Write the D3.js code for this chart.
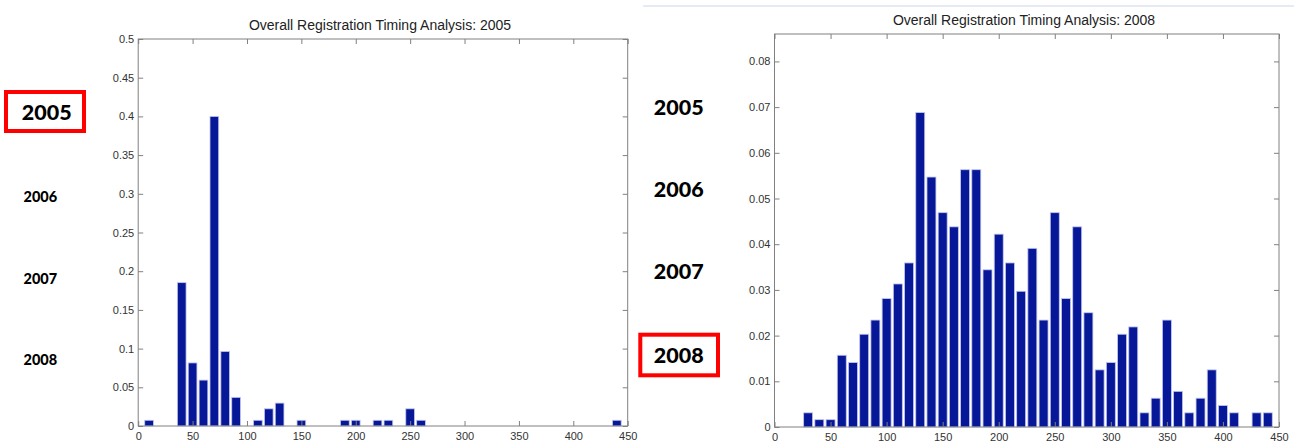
<!DOCTYPE html>
<html>
<head>
<meta charset="utf-8">
<script src="https://cdn.jsdelivr.net/npm/d3@7"></script>
<style>
  html, body { margin: 0; padding: 0; background: #ffffff; }
  svg { display: block; }
</style>
</head>
<body>
<svg id="chart" width="1294" height="444"></svg>
<script>
// Registration timing histograms (share of registrations per 10-unit bin)
const binCenters2005 = [10, 40, 50, 60, 70, 80, 90, 110, 120, 130, 150, 190, 200, 220, 230, 250, 260, 440];
const share2005 = [0.0074, 0.1852, 0.0815, 0.0593, 0.4, 0.0963, 0.037, 0.0074, 0.0222, 0.0296,
                   0.0074, 0.0074, 0.0074, 0.0074, 0.0074, 0.0222, 0.0074, 0.0074];

const binCenters2008 = [30, 40, 50, 60, 70, 80, 90, 100, 110, 120, 130, 140, 150, 160, 170, 180, 190,
                        200, 210, 220, 230, 240, 250, 260, 270, 280, 290, 300, 310, 320, 330, 340,
                        350, 360, 370, 380, 390, 400, 410, 430, 440];
const share2008 = [0.0031, 0.0016, 0.0016, 0.0157, 0.0141, 0.0203, 0.0234, 0.0281, 0.0313, 0.0359,
                   0.0688, 0.0547, 0.0469, 0.0438, 0.0563, 0.0563, 0.0344, 0.0422, 0.0359, 0.0297,
                   0.0391, 0.0234, 0.0469, 0.0281, 0.0438, 0.025, 0.0125, 0.0141, 0.0203, 0.0219,
                   0.0031, 0.0063, 0.0234, 0.0078, 0.0031, 0.0063, 0.0125, 0.0047, 0.0031, 0.0031, 0.0031];

const xTicks = [0, 50, 100, 150, 200, 250, 300, 350, 400, 450];
const yTicks2005 = [0, 0.05, 0.1, 0.15, 0.2, 0.25, 0.3, 0.35, 0.4, 0.45, 0.5];
const yTicks2008 = [0, 0.01, 0.02, 0.03, 0.04, 0.05, 0.06, 0.07, 0.08];

const yearLabels = ["2005", "2006", "2007", "2008"];
const titlePrefix = "Overall Registration Timing Analysis: ";

const svg = d3.select("#chart");
const BAR_FILL = "#061797";
const BAR_EDGE = "#c3c6ee";
const AXIS_COLOR = "#808080";
const TICK_FONT = "'Liberation Sans', Arial, sans-serif";
const fmt = v => String(+v.toFixed(2));

function drawHistogram(o) {
  const x = d3.scaleLinear().domain([0, 450]).range([o.left, o.right]);
  const y = d3.scaleLinear().domain([0, o.ymax]).range([o.bottom, o.top]);
  const g = svg.append("g");

  // bars: 0.8 of the 10-unit bin width
  const half = 4;
  g.selectAll("rect.bar")
    .data(o.centers.map((c, i) => ({ c, v: o.values[i] })))
    .join("rect")
    .attr("class", "bar")
    .attr("x", d => x(d.c - half))
    .attr("width", d => x(d.c + half) - x(d.c - half))
    .attr("y", d => y(d.v))
    .attr("height", d => y(0) - y(d.v))
    .attr("fill", BAR_FILL)
    .attr("stroke", BAR_EDGE)
    .attr("stroke-width", 0.8);

  // inward ticks on all four sides
  const styleAxis = sel => {
    sel.select(".domain").remove();
    sel.selectAll(".tick line").attr("stroke", AXIS_COLOR);
    sel.selectAll(".tick text")
      .attr("fill", "#333")
      .style("font-family", TICK_FONT)
      .style("font-size", "11px");
  };
  g.append("g").attr("transform", `translate(0,${o.bottom})`)
    .call(d3.axisBottom(x).tickValues(xTicks).tickSizeInner(-5).tickSizeOuter(0)
      .tickPadding(6).tickFormat(d3.format("d")))
    .call(styleAxis);
  g.append("g").attr("transform", `translate(0,${o.top})`)
    .call(d3.axisTop(x).tickValues(xTicks).tickSizeInner(-5).tickSizeOuter(0).tickFormat(""))
    .call(styleAxis);
  g.append("g").attr("transform", `translate(${o.left},0)`)
    .call(d3.axisLeft(y).tickValues(o.yTicks).tickSizeInner(-5).tickSizeOuter(0)
      .tickPadding(4).tickFormat(fmt))
    .call(styleAxis);
  g.append("g").attr("transform", `translate(${o.right},0)`)
    .call(d3.axisRight(y).tickValues(o.yTicks).tickSizeInner(-5).tickSizeOuter(0).tickFormat(""))
    .call(styleAxis);

  // axes box
  g.append("rect")
    .attr("x", o.left).attr("y", o.top)
    .attr("width", o.right - o.left).attr("height", o.bottom - o.top)
    .attr("fill", "none").attr("stroke", AXIS_COLOR).attr("stroke-width", 1);

  g.append("text")
    .attr("x", o.titleX).attr("y", o.titleY)
    .attr("text-anchor", "middle")
    .style("font-family", TICK_FONT).style("font-size", "14px")
    .attr("fill", "#222")
    .text(titlePrefix + o.year);
}

drawHistogram({
  left: 138.2, right: 627.7, top: 39, bottom: 426, ymax: 0.5,
  yTicks: yTicks2005, centers: binCenters2005, values: share2005,
  year: "2005", titleX: 380, titleY: 30
});
drawHistogram({
  left: 774.5, right: 1279, top: 34, bottom: 427, ymax: 0.086,
  yTicks: yTicks2008, centers: binCenters2008, values: share2008,
  year: "2008", titleX: 1024, titleY: 25
});

// thin rule along the top of the right panel
svg.append("line")
  .attr("x1", 643).attr("x2", 1294).attr("y1", 6).attr("y2", 6)
  .attr("stroke", "#dde3ef").attr("stroke-width", 1.5);

// year navigation labels
const YEAR_FONT = "Lato, 'Open Sans', sans-serif";
function yearColumn(cfg) {
  yearLabels.forEach((yr, i) => {
    const big = yr === cfg.highlight || cfg.allBig;
    svg.append("text")
      .attr("x", big ? cfg.bigX : cfg.smallX)
      .attr("y", cfg.baselines[i])
      .attr("text-anchor", "middle")
      .style("font-family", YEAR_FONT)
      .style("font-weight", "900")
      .style("font-size", big ? "21.5px" : "14.5px")
      .attr("fill", "#000")
      .text(yr);
  });
  const b = cfg.box;
  svg.append("rect")
    .attr("x", b[0] + 2).attr("y", b[1] + 2)
    .attr("width", b[2] - b[0] - 4).attr("height", b[3] - b[1] - 4)
    .attr("fill", "none").attr("stroke", "#ff0000").attr("stroke-width", 4);
}
yearColumn({
  highlight: "2005", allBig: false, bigX: 46.7, smallX: 40.3,
  baselines: [120, 202, 283.5, 365], box: [4, 90, 86, 133]
});
yearColumn({
  highlight: "2008", allBig: true, bigX: 678.7, smallX: 678.7,
  baselines: [115, 197, 279, 363], box: [638.3, 332.7, 720, 377.3]
});
</script>
</body>
</html>
